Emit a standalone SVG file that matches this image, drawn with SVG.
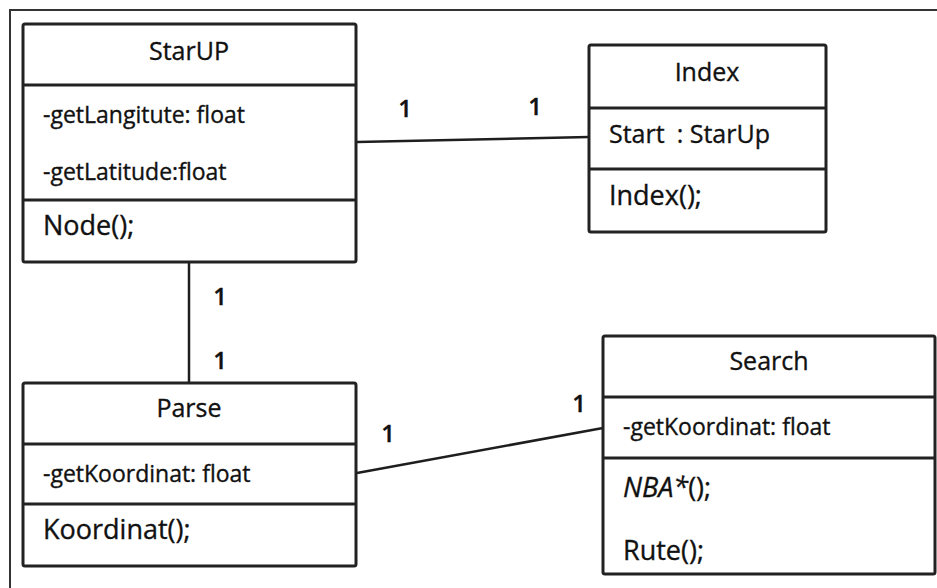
<svg xmlns="http://www.w3.org/2000/svg" width="937" height="588" viewBox="0 0 937 588">
  <style>
    .box { fill: #ffffff; stroke: #222222; stroke-width: 3; }
    .sep { stroke: #222222; stroke-width: 3; }
    .frame { fill: none; stroke: #333333; stroke-width: 2; }
    .link { fill: none; stroke: #1e1e1e; stroke-width: 2.5; }
    text { font-family: "Open Sans", "Noto Sans", "Liberation Sans", sans-serif; fill: #111111; stroke: #111111; stroke-width: 0.35; }
    .title { font-size: 25px; text-anchor: middle; }
    .attr { font-size: 23px; }
    .op { font-size: 27px; }
    .mult { font-size: 24px; font-weight: 600; text-anchor: middle; }
  </style>

  <rect width="937" height="588" fill="#ffffff"/>

  <!-- page border (cut off at right and bottom) -->
  <path class="frame" d="M10,588 V10 H937"/>

  <!-- associations -->
  <g id="connectors">
    <line class="link" x1="357" y1="142" x2="589" y2="137"/>
    <line class="link" x1="189" y1="262" x2="189" y2="383"/>
    <line class="link" x1="357" y1="473" x2="603" y2="428"/>
    <text class="mult" x="405" y="117">1</text>
    <text class="mult" x="535" y="115">1</text>
    <text class="mult" x="220" y="305">1</text>
    <text class="mult" x="220" y="369">1</text>
    <text class="mult" x="388" y="442">1</text>
    <text class="mult" x="579" y="412">1</text>
  </g>

  <g id="StarUP">
    <rect class="box" x="23" y="24" width="333" height="238" rx="2"/>
    <line class="sep" x1="23" y1="85" x2="356" y2="85"/>
    <line class="sep" x1="23" y1="200" x2="356" y2="200"/>
    <text class="title" x="189" y="60">StarUP</text>
    <text class="attr" x="43" y="123">-getLangitute: float</text>
    <text class="attr" x="43" y="180">-getLatitude:float</text>
    <text class="op" x="43" y="235">Node();</text>
  </g>

  <g id="Index">
    <rect class="box" x="589" y="45" width="237" height="187" rx="2"/>
    <line class="sep" x1="589" y1="108" x2="826" y2="108"/>
    <line class="sep" x1="589" y1="169" x2="826" y2="169"/>
    <text class="title" x="707" y="81">Index</text>
    <text class="op" x="609" y="143" style="font-size:25px">Start<tspan dx="12">: StarUp</tspan></text>
    <text class="op" x="609" y="205">Index();</text>
  </g>

  <g id="Parse">
    <rect class="box" x="23" y="383" width="333" height="183" rx="2"/>
    <line class="sep" x1="23" y1="444" x2="356" y2="444"/>
    <line class="sep" x1="23" y1="504" x2="356" y2="504"/>
    <text class="title" x="189" y="417">Parse</text>
    <text class="attr" x="43" y="482">-getKoordinat: float</text>
    <text class="op" x="43" y="539">Koordinat();</text>
  </g>

  <g id="Search">
    <rect class="box" x="603" y="336" width="332" height="238" rx="2"/>
    <line class="sep" x1="603" y1="397" x2="935" y2="397"/>
    <line class="sep" x1="603" y1="458" x2="935" y2="458"/>
    <text class="title" x="769" y="370">Search</text>
    <text class="attr" x="623" y="435">-getKoordinat: float</text>
    <text class="op" x="623" y="497"><tspan font-style="italic">NBA*</tspan>();</text>
    <text class="op" x="623" y="560">Rute();</text>
  </g>
</svg>
